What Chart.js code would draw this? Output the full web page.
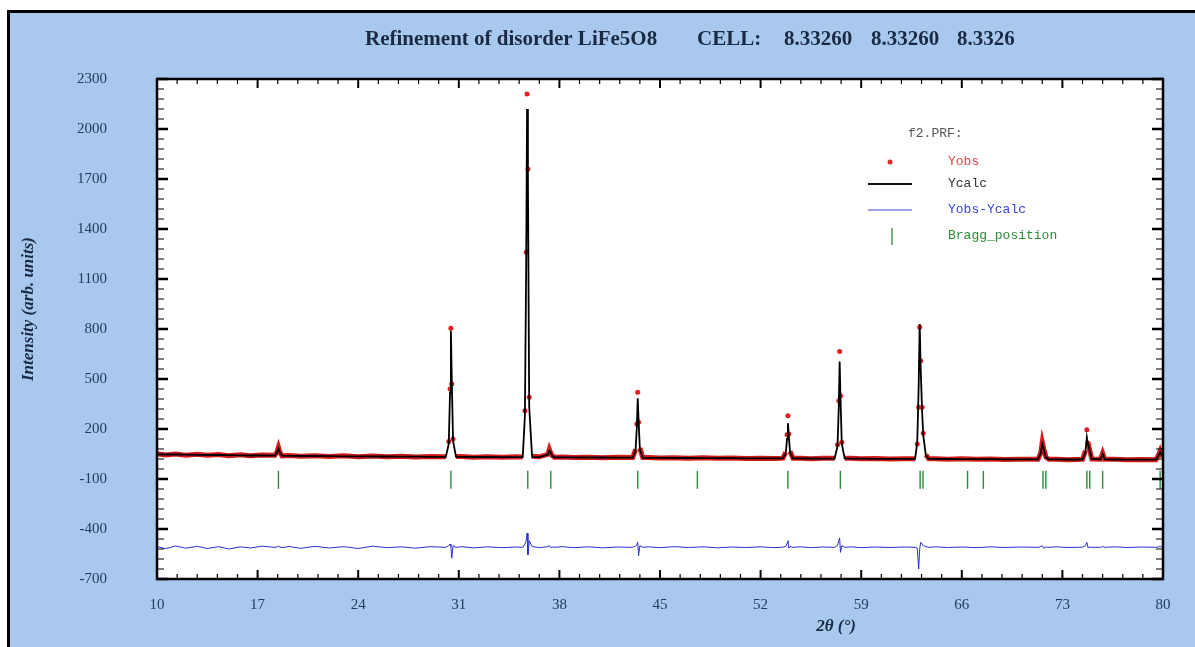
<!DOCTYPE html>
<html>
<head>
<meta charset="utf-8">
<title>Refinement of disorder LiFe5O8</title>
<script src="https://cdn.jsdelivr.net/npm/chart.js@4.4.1/dist/chart.umd.min.js"></script>
<style>
  html, body { margin: 0; padding: 0; background: #fff; }
  canvas { display: block; }
</style>
</head>
<body>
<canvas id="profile" width="1195" height="647"></canvas>
<script>
// 2theta steps shared by Yobs, Ycalc and Yobs-Ycalc
var twoTheta = [
    10, 10.6, 11.3, 12, 12.8, 13.5, 14.3, 15, 15.8, 16.5, 17.3, 18.2,
    18.35, 18.45, 18.55, 18.7,
    19.2, 20, 21, 22, 23, 24, 25, 26, 27, 28, 29, 30.1,
    30.3, 30.39, 30.45, 30.51, 30.6, 30.8,
    31.2, 32, 33, 34, 35, 35.45,
    35.6, 35.69, 35.75, 35.81, 35.9, 36.1,
    36.6, 37.2, 37.3, 37.38, 37.48, 37.65,
    38.2, 39, 40, 41, 42, 43.1,
    43.3, 43.39, 43.45, 43.51, 43.6, 43.8,
    44.2, 45, 46, 47, 48, 49, 50, 51, 52, 53, 53.55,
    53.75, 53.84, 53.9, 53.96, 54.05, 54.25,
    54.8, 55.5, 56.3, 57.15,
    57.35, 57.44, 57.5, 57.56, 57.65, 57.85,
    58.3, 59, 60, 61, 62, 62.75,
    62.9, 63.0, 63.07, 63.14, 63.24, 63.32, 63.5, 63.7,
    64.2, 65, 66, 67, 68, 69, 70, 71.3,
    71.5, 71.6, 71.7, 71.85, 72.05,
    72.6, 73.4, 74.4,
    74.6, 74.7, 74.78, 74.9, 75.05,
    75.65, 75.8, 75.95,
    76.6, 77.5, 78.5, 79.5,
    79.68, 79.8, 79.9, 80
];

var yObs = [
    52, 44, 50, 43, 48, 42, 47, 40, 45, 39, 44, 42,
    62, 90, 60, 39,
    41, 36, 40, 35, 39, 34, 38, 33, 37, 32, 35, 34,
    125, 440, 805, 470, 140, 35,
    35, 30, 34, 30, 33, 32,
    310, 1260, 2210, 1760, 390, 36,
    33, 48, 78, 60, 42, 31,
    32, 29, 31, 28, 30, 29,
    78, 230, 420, 240, 86, 29,
    29, 26, 28, 25, 27, 24, 26, 23, 25, 23, 25,
    60, 165, 280, 170, 66, 25,
    25, 22, 24, 24,
    105, 370, 665, 400, 120, 25,
    24, 21, 23, 20, 22, 22,
    110, 330, 810, 610, 330, 175, 45, 22,
    22, 19, 21, 18, 20, 17, 19, 19,
    58, 120, 82, 32, 19,
    19, 16, 18,
    70, 195, 115, 72, 20,
    19, 55, 18,
    18, 15, 17, 16,
    42, 68, 44, 36
];

var yCalc = [
    48, 47, 47, 46, 45, 44, 44, 43, 42, 41, 41, 40,
    60, 82, 58, 40,
    39, 38, 38, 37, 36, 36, 35, 35, 34, 34, 33, 33,
    110, 420, 790, 500, 130, 34,
    33, 32, 32, 31, 31, 31,
    280, 1200, 2120, 1700, 330, 32,
    31, 45, 70, 62, 40, 30,
    30, 30, 29, 29, 28, 28,
    70, 210, 385, 250, 80, 28,
    27, 27, 26, 26, 25, 25, 25, 24, 24, 24, 24,
    55, 140, 235, 160, 60, 24,
    23, 23, 22, 23,
    95, 330, 605, 380, 110, 24,
    22, 22, 21, 21, 21, 21,
    120, 460, 830, 560, 300, 160, 40, 21,
    20, 20, 19, 19, 19, 18, 18, 18,
    55, 110, 80, 30, 18,
    18, 17, 17,
    60, 150, 110, 70, 20,
    18, 50, 18,
    17, 16, 16, 16,
    40, 62, 45, 35
];

var yDiff = [
    -505, -518, -502, -515, -504, -517, -506, -520, -507, -514, -503, -510,
    -508, -502, -508, -512,
    -505, -516, -504, -514, -506, -517, -503, -512, -507, -515, -506, -510,
    -500, -490, -505, -575, -500, -510,
    -506, -513, -507, -512, -508, -510,
    -490, -470, -425, -555, -470, -505,
    -512, -506, -500, -512, -508, -510,
    -506, -512, -507, -513, -508, -510,
    -502, -495, -480, -560, -500, -510,
    -507, -512, -506, -511, -507, -513, -508, -511, -507, -512, -509,
    -505, -485, -470, -515, -505, -510,
    -507, -512, -508, -510,
    -500, -470, -455, -540, -500, -510,
    -507, -512, -508, -511, -508, -510,
    -515, -640, -520, -480, -490, -500, -505, -510,
    -507, -511, -508, -512, -507, -511, -508, -510,
    -505, -500, -515, -508, -510,
    -507, -511, -509,
    -500, -480, -512, -508, -510,
    -510, -505, -510,
    -507, -511, -508, -510,
    -508, -502, -508, -510
];

var braggPositions = [18.45, 30.45, 35.8, 37.4, 43.45, 47.6, 53.9, 57.55, 63.1, 63.3,
    66.4, 67.5, 71.65, 71.85, 74.7, 74.9, 75.8, 79.8];
var braggLevel = -105;

var xTickValues = [10, 17, 24, 31, 38, 45, 52, 59, 66, 73, 80];
var yTickValues = [-700, -400, -100, 200, 500, 800, 1100, 1400, 1700, 2000, 2300];

var titleParts = ['Refinement of disorder LiFe5O8', 'CELL:', '8.33260', '8.33260', '8.3326'];

function points(xs, ys) {
    return xs.map(function(x, i) { return { x: x, y: ys[i] }; });
}

var labelColor = '#243a5e';

// page background, frame, plot box with inner ticks, titles and the key
var decorations = {
    id: 'decorations',
    beforeDraw: function(chart) {
        var c = chart.ctx, a = chart.chartArea;
        c.save();
        c.fillStyle = '#fff';
        c.fillRect(0, 0, chart.width, chart.height);
        c.fillStyle = '#000';
        c.fillRect(7, 10, chart.width, chart.height);
        c.fillStyle = '#a8c9ed';
        c.fillRect(10, 13, chart.width, chart.height);
        c.fillStyle = '#fff';
        c.fillRect(a.left, a.top, a.right - a.left, a.bottom - a.top);
        c.restore();
    },
    afterDatasetsDraw: function(chart) {
        var c = chart.ctx, a = chart.chartArea;
        var sx = chart.scales.x, sy = chart.scales.y;
        c.save();
        c.strokeStyle = '#000';
        // x ticks, top and bottom
        for (var k = 0; k <= 50; k++) {
            var px = sx.getPixelForValue(10 + k * 1.4);
            var len = (k % 5 === 0) ? 9 : 5;
            c.lineWidth = (k % 5 === 0) ? 2 : 1.2;
            c.beginPath();
            c.moveTo(px, a.bottom); c.lineTo(px, a.bottom - len);
            c.moveTo(px, a.top); c.lineTo(px, a.top + len);
            c.stroke();
        }
        // y ticks, left and right
        for (var j = 0; j <= 50; j++) {
            var py = sy.getPixelForValue(-700 + j * 60);
            var ylen = (j % 5 === 0) ? 11 : 7;
            c.lineWidth = (j % 5 === 0) ? 2.5 : 1.2;
            c.beginPath();
            c.moveTo(a.left, py); c.lineTo(a.left + ylen, py);
            c.moveTo(a.right, py); c.lineTo(a.right - ylen, py);
            c.stroke();
        }
        c.lineWidth = 2.5;
        c.strokeRect(a.left, a.top, a.right - a.left, a.bottom - a.top);
        c.restore();
    },
    afterDraw: function(chart) {
        var c = chart.ctx;
        c.save();
        // main title
        c.fillStyle = '#1b2a44';
        c.font = 'bold 21px "Liberation Serif", serif';
        c.textBaseline = 'middle';
        c.textAlign = 'left';
        var tx = [365, 697, 784, 871, 957];
        titleParts.forEach(function(t, i) { c.fillText(t, tx[i], 40); });

        // axis titles
        c.font = 'bold italic 17px "Liberation Serif", serif';
        c.textAlign = 'center';
        c.fillText('2\u03b8 (\u00b0)', 836, 627);
        c.translate(29, 309);
        c.rotate(-Math.PI / 2);
        c.fillText('Intensity (arb. units)', 0, 0);
        c.setTransform(1, 0, 0, 1, 0, 0);

        // key
        c.font = '13px "Liberation Mono", monospace';
        c.textAlign = 'left';
        c.fillStyle = '#555';
        c.fillText('f2.PRF:', 908, 134);

        c.fillStyle = '#e02a2a';
        c.beginPath(); c.arc(890, 162, 2.5, 0, Math.PI * 2); c.fill();
        c.fillStyle = '#e04848';
        c.fillText('Yobs', 948, 162);

        c.strokeStyle = '#111'; c.lineWidth = 2;
        c.beginPath(); c.moveTo(868, 184); c.lineTo(912, 184); c.stroke();
        c.fillStyle = '#333';
        c.fillText('Ycalc', 948, 184);

        c.strokeStyle = '#3a44d6'; c.lineWidth = 1.2;
        c.beginPath(); c.moveTo(868, 210); c.lineTo(912, 210); c.stroke();
        c.fillStyle = '#3a44d6';
        c.fillText('Yobs-Ycalc', 948, 210);

        c.strokeStyle = '#2e8b3a'; c.lineWidth = 1.3;
        c.beginPath(); c.moveTo(892, 228); c.lineTo(892, 245); c.stroke();
        c.fillStyle = '#2e8b3a';
        c.fillText('Bragg_position', 948, 236);
        c.restore();
    }
};

var ctx = document.getElementById('profile').getContext('2d');
var chart = new Chart(ctx, {
    type: 'scatter',
    data: {
        datasets: [{
            label: 'Ycalc',
            data: points(twoTheta, yCalc),
            showLine: true,
            borderColor: '#000',
            borderWidth: 1.8,
            pointRadius: 0,
            order: 1
        }, {
            label: 'Yobs',
            data: points(twoTheta, yObs),
            showLine: true,
            borderColor: '#d21c1c',
            borderWidth: 5,
            backgroundColor: '#e01e1e',
            pointBorderWidth: 0,
            pointRadius: function(c) { return c.raw && c.raw.y > 100 ? 2.5 : 0; },
            segment: {
                borderColor: function(c) {
                    return Math.abs(c.p1.parsed.y - c.p0.parsed.y) > 70 ? 'transparent' : undefined;
                }
            },
            order: 2
        }, {
            label: 'Yobs-Ycalc',
            data: points(twoTheta, yDiff),
            showLine: true,
            borderColor: '#2a30d0',
            borderWidth: 1,
            pointRadius: 0,
            order: 3
        }, {
            label: 'Bragg_position',
            data: braggPositions.map(function(x) { return { x: x, y: braggLevel }; }),
            showLine: false,
            pointStyle: 'line',
            rotation: 90,
            pointRadius: 9,
            pointBorderColor: '#2e8b3a',
            pointBorderWidth: 1.4,
            order: 4
        }]
    },
    options: {
        responsive: false,
        animation: false,
        layout: { padding: { top: 79, right: 32, left: 0, bottom: 0 } },
        plugins: {
            legend: { display: false },
            tooltip: { enabled: false },
            title: { display: false }
        },
        scales: {
            x: {
                type: 'linear',
                min: 10,
                max: 80,
                afterBuildTicks: function(s) { s.ticks = xTickValues.map(function(v) { return { value: v }; }); },
                afterFit: function(s) { s.height = 68; },
                grid: { display: false, drawTicks: false },
                border: { display: false },
                ticks: {
                    padding: 17,
                    color: labelColor,
                    autoSkip: false,
                    maxRotation: 0,
                    font: { family: '"Liberation Serif", serif', size: 15 },
                    callback: function(v) { return String(v); }
                }
            },
            y: {
                type: 'linear',
                min: -700,
                max: 2300,
                afterBuildTicks: function(s) { s.ticks = yTickValues.map(function(v) { return { value: v }; }); },
                afterFit: function(s) { s.width = 157; },
                grid: { display: false, drawTicks: false },
                border: { display: false },
                ticks: {
                    padding: 50,
                    color: labelColor,
                    font: { family: '"Liberation Serif", serif', size: 15 },
                    callback: function(v) { return String(v); }
                }
            }
        }
    },
    plugins: [decorations]
});
</script>
</body>
</html>
